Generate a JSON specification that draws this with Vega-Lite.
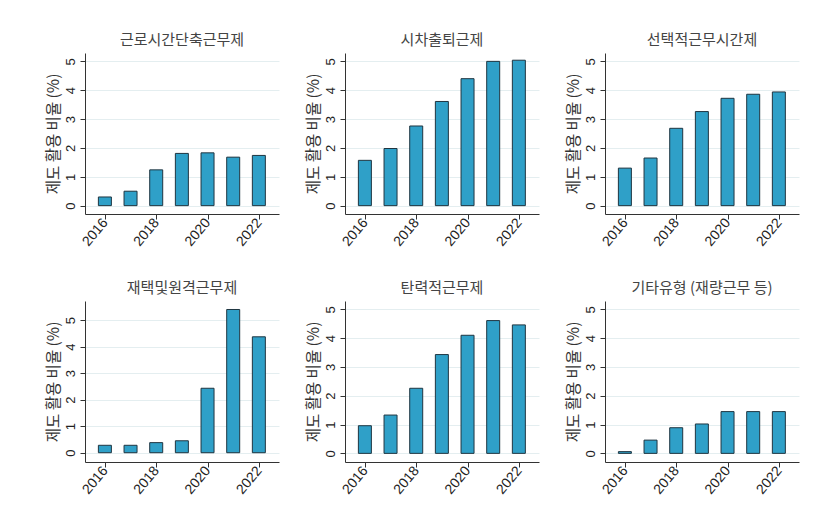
{
  "$schema": "https://vega.github.io/schema/vega-lite/v6.json",
  "background": "white",
  "padding": {"left": 45, "top": 33, "right": 5, "bottom": 5},
  "datasets": {
    "rates": [
      {"type": "근로시간단축근무제", "year": 2016, "value": 0.30},
      {"type": "근로시간단축근무제", "year": 2017, "value": 0.50},
      {"type": "근로시간단축근무제", "year": 2018, "value": 1.24},
      {"type": "근로시간단축근무제", "year": 2019, "value": 1.81},
      {"type": "근로시간단축근무제", "year": 2020, "value": 1.83},
      {"type": "근로시간단축근무제", "year": 2021, "value": 1.68},
      {"type": "근로시간단축근무제", "year": 2022, "value": 1.74},
      {"type": "시차출퇴근제", "year": 2016, "value": 1.57},
      {"type": "시차출퇴근제", "year": 2017, "value": 1.98},
      {"type": "시차출퇴근제", "year": 2018, "value": 2.76},
      {"type": "시차출퇴근제", "year": 2019, "value": 3.61},
      {"type": "시차출퇴근제", "year": 2020, "value": 4.40},
      {"type": "시차출퇴근제", "year": 2021, "value": 5.00},
      {"type": "시차출퇴근제", "year": 2022, "value": 5.04},
      {"type": "선택적근무시간제", "year": 2016, "value": 1.30},
      {"type": "선택적근무시간제", "year": 2017, "value": 1.65},
      {"type": "선택적근무시간제", "year": 2018, "value": 2.68},
      {"type": "선택적근무시간제", "year": 2019, "value": 3.26},
      {"type": "선택적근무시간제", "year": 2020, "value": 3.72},
      {"type": "선택적근무시간제", "year": 2021, "value": 3.86},
      {"type": "선택적근무시간제", "year": 2022, "value": 3.94},
      {"type": "재택및원격근무제", "year": 2016, "value": 0.28},
      {"type": "재택및원격근무제", "year": 2017, "value": 0.28},
      {"type": "재택및원격근무제", "year": 2018, "value": 0.38},
      {"type": "재택및원격근무제", "year": 2019, "value": 0.45},
      {"type": "재택및원격근무제", "year": 2020, "value": 2.43},
      {"type": "재택및원격근무제", "year": 2021, "value": 5.40},
      {"type": "재택및원격근무제", "year": 2022, "value": 4.37},
      {"type": "탄력적근무제", "year": 2016, "value": 0.96},
      {"type": "탄력적근무제", "year": 2017, "value": 1.33},
      {"type": "탄력적근무제", "year": 2018, "value": 2.26},
      {"type": "탄력적근무제", "year": 2019, "value": 3.43},
      {"type": "탄력적근무제", "year": 2020, "value": 4.10},
      {"type": "탄력적근무제", "year": 2021, "value": 4.61},
      {"type": "탄력적근무제", "year": 2022, "value": 4.46},
      {"type": "기타유형 (재량근무 등)", "year": 2016, "value": 0.06},
      {"type": "기타유형 (재량근무 등)", "year": 2017, "value": 0.46},
      {"type": "기타유형 (재량근무 등)", "year": 2018, "value": 0.89},
      {"type": "기타유형 (재량근무 등)", "year": 2019, "value": 1.02},
      {"type": "기타유형 (재량근무 등)", "year": 2020, "value": 1.45},
      {"type": "기타유형 (재량근무 등)", "year": 2021, "value": 1.45},
      {"type": "기타유형 (재량근무 등)", "year": 2022, "value": 1.45}
    ]
  },
  "data": {"name": "rates"},
  "config": {
    "font": "Liberation Sans, Noto Sans CJK KR",
    "view": {"stroke": null},
    "title": {"fontSize": 15, "fontWeight": "normal", "color": "#444444", "anchor": "middle", "offset": 5, "font": "Noto Sans CJK KR"},
    "axis": {
      "domainColor": "#333333", "tickColor": "#333333", "labelColor": "#222222",
      "labelFontSize": 13, "titleFontSize": 15.5, "titleFontWeight": "normal", "titleColor": "#333333",
      "titleFont": "Noto Sans CJK KR", "gridColor": "#e4eef0", "tickSize": 5
    }
  },
  "columns": 3,
  "spacing": {"row": 87, "column": 66},
  "bounds": "flush",
  "concat": [
    {
      "width": 194, "height": 161,
      "title": "근로시간단축근무제",
      "transform": [{"filter": "datum.type === '근로시간단축근무제'"}],
      "mark": {"type": "bar", "orient": "vertical", "size": 13, "fill": "#2fa0c8", "stroke": "#1f3540", "strokeWidth": 1},
      "encoding": {
        "x": {"field": "year", "type": "quantitative", "scale": {"domain": [2015.42, 2022.59], "nice": false, "zero": false}, "axis": {"values": [2016, 2018, 2020, 2022], "format": "d", "labelAngle": -50, "labelAlign": "right", "labelBaseline": "middle", "labelPadding": 1, "labelFontSize": 14, "grid": false, "title": null}},
        "y": {"field": "value", "type": "quantitative", "scale": {"domain": [-0.29, 5.29], "nice": false, "zero": false}, "axis": {"values": [0, 1, 2, 3, 4, 5], "labelAngle": -90, "labelPadding": 3, "titlePadding": 3, "grid": true, "title": "제도 활용 비율 (%)"}},
        "y2": {"datum": 0}
      }
    },
    {
      "width": 194, "height": 161,
      "title": "시차출퇴근제",
      "transform": [{"filter": "datum.type === '시차출퇴근제'"}],
      "mark": {"type": "bar", "orient": "vertical", "size": 13, "fill": "#2fa0c8", "stroke": "#1f3540", "strokeWidth": 1},
      "encoding": {
        "x": {"field": "year", "type": "quantitative", "scale": {"domain": [2015.42, 2022.59], "nice": false, "zero": false}, "axis": {"values": [2016, 2018, 2020, 2022], "format": "d", "labelAngle": -50, "labelAlign": "right", "labelBaseline": "middle", "labelPadding": 1, "labelFontSize": 14, "grid": false, "title": null}},
        "y": {"field": "value", "type": "quantitative", "scale": {"domain": [-0.29, 5.29], "nice": false, "zero": false}, "axis": {"values": [0, 1, 2, 3, 4, 5], "labelAngle": -90, "labelPadding": 3, "titlePadding": 3, "grid": true, "title": "제도 활용 비율 (%)"}},
        "y2": {"datum": 0}
      }
    },
    {
      "width": 194, "height": 161,
      "title": "선택적근무시간제",
      "transform": [{"filter": "datum.type === '선택적근무시간제'"}],
      "mark": {"type": "bar", "orient": "vertical", "size": 13, "fill": "#2fa0c8", "stroke": "#1f3540", "strokeWidth": 1},
      "encoding": {
        "x": {"field": "year", "type": "quantitative", "scale": {"domain": [2015.42, 2022.59], "nice": false, "zero": false}, "axis": {"values": [2016, 2018, 2020, 2022], "format": "d", "labelAngle": -50, "labelAlign": "right", "labelBaseline": "middle", "labelPadding": 1, "labelFontSize": 14, "grid": false, "title": null}},
        "y": {"field": "value", "type": "quantitative", "scale": {"domain": [-0.29, 5.29], "nice": false, "zero": false}, "axis": {"values": [0, 1, 2, 3, 4, 5], "labelAngle": -90, "labelPadding": 3, "titlePadding": 3, "grid": true, "title": "제도 활용 비율 (%)"}},
        "y2": {"datum": 0}
      }
    },
    {
      "width": 194, "height": 161,
      "title": "재택및원격근무제",
      "transform": [{"filter": "datum.type === '재택및원격근무제'"}],
      "mark": {"type": "bar", "orient": "vertical", "size": 13, "fill": "#2fa0c8", "stroke": "#1f3540", "strokeWidth": 1},
      "encoding": {
        "x": {"field": "year", "type": "quantitative", "scale": {"domain": [2015.42, 2022.59], "nice": false, "zero": false}, "axis": {"values": [2016, 2018, 2020, 2022], "format": "d", "labelAngle": -50, "labelAlign": "right", "labelBaseline": "middle", "labelPadding": 1, "labelFontSize": 14, "grid": false, "title": null}},
        "y": {"field": "value", "type": "quantitative", "scale": {"domain": [-0.35, 5.72], "nice": false, "zero": false}, "axis": {"values": [0, 1, 2, 3, 4, 5], "labelAngle": -90, "labelPadding": 3, "titlePadding": 3, "grid": true, "title": "제도 활용 비율 (%)"}},
        "y2": {"datum": 0}
      }
    },
    {
      "width": 194, "height": 161,
      "title": "탄력적근무제",
      "transform": [{"filter": "datum.type === '탄력적근무제'"}],
      "mark": {"type": "bar", "orient": "vertical", "size": 13, "fill": "#2fa0c8", "stroke": "#1f3540", "strokeWidth": 1},
      "encoding": {
        "x": {"field": "year", "type": "quantitative", "scale": {"domain": [2015.42, 2022.59], "nice": false, "zero": false}, "axis": {"values": [2016, 2018, 2020, 2022], "format": "d", "labelAngle": -50, "labelAlign": "right", "labelBaseline": "middle", "labelPadding": 1, "labelFontSize": 14, "grid": false, "title": null}},
        "y": {"field": "value", "type": "quantitative", "scale": {"domain": [-0.3, 5.29], "nice": false, "zero": false}, "axis": {"values": [0, 1, 2, 3, 4, 5], "labelAngle": -90, "labelPadding": 3, "titlePadding": 3, "grid": true, "title": "제도 활용 비율 (%)"}},
        "y2": {"datum": 0}
      }
    },
    {
      "width": 194, "height": 161,
      "title": "기타유형 (재량근무 등)",
      "transform": [{"filter": "datum.type === '기타유형 (재량근무 등)'"}],
      "mark": {"type": "bar", "orient": "vertical", "size": 13, "fill": "#2fa0c8", "stroke": "#1f3540", "strokeWidth": 1},
      "encoding": {
        "x": {"field": "year", "type": "quantitative", "scale": {"domain": [2015.42, 2022.59], "nice": false, "zero": false}, "axis": {"values": [2016, 2018, 2020, 2022], "format": "d", "labelAngle": -50, "labelAlign": "right", "labelBaseline": "middle", "labelPadding": 1, "labelFontSize": 14, "grid": false, "title": null}},
        "y": {"field": "value", "type": "quantitative", "scale": {"domain": [-0.3, 5.29], "nice": false, "zero": false}, "axis": {"values": [0, 1, 2, 3, 4, 5], "labelAngle": -90, "labelPadding": 3, "titlePadding": 3, "grid": true, "title": "제도 활용 비율 (%)"}},
        "y2": {"datum": 0}
      }
    }
  ]
}
